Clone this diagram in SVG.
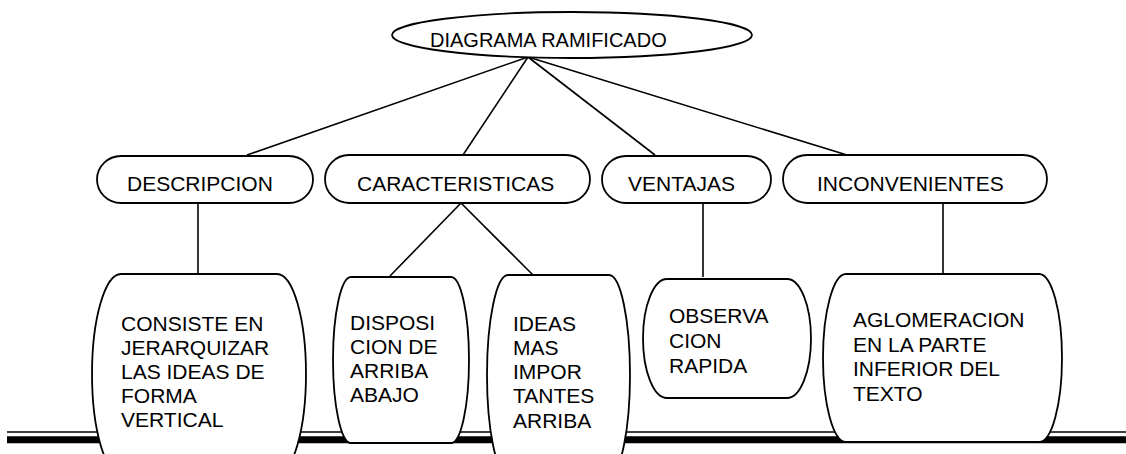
<svg xmlns="http://www.w3.org/2000/svg" width="1126" height="454" viewBox="0 0 1126 454">
<style>
.s{fill:#fff;stroke:#000;stroke-width:1.8}
.c line{stroke:#000;stroke-width:1.6}
text{font-family:"Liberation Sans",Arial,sans-serif;font-size:21px;fill:#000}
</style>
<rect width="1126" height="454" fill="#fff"/>
<g id="baseline">
<line x1="7" y1="432" x2="1126" y2="432" stroke="#000" stroke-width="1.6"/>
<line x1="7" y1="439.7" x2="1126" y2="439.7" stroke="#000" stroke-width="7"/>
</g>
<g class="c" id="connectors">
<line x1="528" y1="57" x2="247" y2="155"/>
<line x1="528" y1="57" x2="463" y2="155"/>
<line x1="528" y1="57" x2="655" y2="155"/>
<line x1="528" y1="57" x2="847" y2="155"/>
<line x1="198" y1="203" x2="198" y2="274"/>
<line x1="461" y1="203" x2="390" y2="276"/>
<line x1="461" y1="203" x2="534" y2="276"/>
<line x1="703" y1="203" x2="703" y2="277"/>
<line x1="943" y1="203" x2="943" y2="274"/>
</g>
<g id="root">
<ellipse class="s" cx="572" cy="35" rx="180" ry="23"/>
<text x="430" y="47" style="font-size:20px">DIAGRAMA RAMIFICADO</text>
</g>
<g id="descripcion">
<rect class="s" x="97" y="156" width="216" height="47" rx="24" ry="23.5"/>
<text x="127" y="191">DESCRIPCION</text>
</g>
<g id="caracteristicas">
<rect class="s" x="325" y="155" width="265" height="48" rx="24" ry="24"/>
<text x="357" y="191">CARACTERISTICAS</text>
</g>
<g id="ventajas">
<rect class="s" x="602" y="156" width="169" height="47" rx="24" ry="23.5"/>
<text x="628" y="191">VENTAJAS</text>
</g>
<g id="inconvenientes">
<rect class="s" x="783" y="155" width="264" height="48" rx="24" ry="24"/>
<text x="817" y="191">INCONVENIENTES</text>
</g>
<g id="consiste">
<path class="s" d="M121,274 L277,274 A29,100 0 0 1 277,474 L121,474 A29,100 0 0 1 121,274 Z"/>
<text x="121"><tspan x="121" y="331">CONSISTE EN</tspan><tspan x="121" y="355">JERARQUIZAR</tspan><tspan x="121" y="379">LAS IDEAS DE</tspan><tspan x="121" y="403">FORMA</tspan><tspan x="121" y="427">VERTICAL</tspan></text>
</g>
<g id="disposicion">
<path class="s" d="M351,277 L451,277 A18,83 0 0 1 451,443 L351,443 A18,83 0 0 1 351,277 Z"/>
<text x="350"><tspan x="350" y="330">DISPOSI</tspan><tspan x="350" y="354">CION DE</tspan><tspan x="350" y="378">ARRIBA</tspan><tspan x="350" y="402">ABAJO</tspan></text>
</g>
<g id="ideas">
<path class="s" d="M508,275 L609,275 A21,100 0 0 1 609,475 L508,475 A21,100 0 0 1 508,275 Z"/>
<text x="513"><tspan x="513" y="331">IDEAS</tspan><tspan x="513" y="355">MAS</tspan><tspan x="513" y="379">IMPOR</tspan><tspan x="513" y="403">TANTES</tspan><tspan x="513" y="428">ARRIBA</tspan></text>
</g>
<g id="observacion">
<path class="s" d="M667,279 L787,279 A24,59.5 0 0 1 787,398 L667,398 A24,59.5 0 0 1 667,279 Z"/>
<text x="669"><tspan x="669" y="323">OBSERVA</tspan><tspan x="669" y="348">CION</tspan><tspan x="669" y="373">RAPIDA</tspan></text>
</g>
<g id="aglomeracion">
<path class="s" d="M846,274 L1039,274 A23,84 0 0 1 1039,442 L846,442 A23,84 0 0 1 846,274 Z"/>
<text x="853"><tspan x="853" y="327">AGLOMERACION</tspan><tspan x="853" y="352">EN LA PARTE</tspan><tspan x="853" y="376">INFERIOR DEL</tspan><tspan x="853" y="401">TEXTO</tspan></text>
</g>
</svg>
